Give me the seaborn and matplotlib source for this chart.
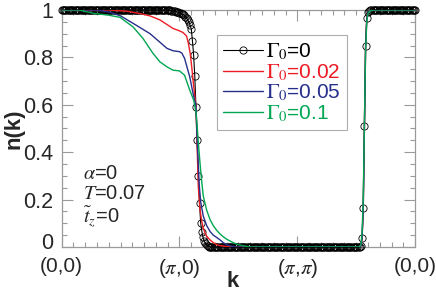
import numpy as np
import matplotlib
matplotlib.use('Agg')
import matplotlib.pyplot as plt
import matplotlib.transforms as mtransforms
from matplotlib.ticker import MultipleLocator
import seaborn as sns

# k path (0,0)->(pi,0)->(pi,pi)->(0,0), one unit per segment
k_ticks = [0, 1, 2, 3]
k_labels = ['(0,0)', r'($\pi$,0)', r'($\pi$,$\pi$)', '(0,0)']

# Gamma0 = 0, sampled every 0.01 along the path (circles)
k_black = np.linspace(0, 3, 301)
n_black = (
    [1.0, 1.0, 1.0, 1.0, 1.0, 1.0, 1.0, 1.0, 1.0, 1.0,
     1.0, 1.0, 1.0, 1.0, 1.0, 1.0, 1.0, 1.0, 1.0, 1.0,
     1.0, 1.0, 1.0, 1.0, 1.0, 1.0, 1.0, 1.0, 1.0, 1.0,
     1.0, 1.0, 1.0, 1.0, 1.0, 1.0, 1.0, 1.0, 1.0, 1.0,
     1.0, 1.0, 1.0, 1.0, 1.0, 1.0, 1.0, 1.0, 1.0, 1.0,
     1.0, 1.0, 1.0, 1.0, 1.0, 1.0, 1.0, 1.0, 1.0, 1.0,
     1.0, 1.0, 1.0, 1.0, 1.0, 1.0, 1.0, 1.0, 1.0, 1.0,
     1.0, 1.0, 1.0, 1.0, 1.0, 1.0, 1.0, 1.0, 1.0, 1.0,
     1.0, 1.0, 1.0, 1.0, 1.0, 1.0, 1.0, 1.0, 1.0, 1.0]
    + [0.999, 0.999, 0.998, 0.997, 0.996, 0.995, 0.994, 0.993, 0.992, 0.991]
    + [0.989, 0.987, 0.984, 0.981, 0.977, 0.972, 0.966, 0.958, 0.948, 0.935]
    + [0.92, 0.87, 0.81, 0.72, 0.59, 0.45, 0.30, 0.185, 0.10, 0.065]
    + [0.04, 0.025, 0.015, 0.008, 0.004, 0.002, 0.0, 0.0, 0.0, 0.0]
    + [0.0, 0.0, 0.0, 0.0, 0.0, 0.0, 0.0, 0.0, 0.0, 0.0,
       0.0, 0.0, 0.0, 0.0, 0.0, 0.0, 0.0, 0.0, 0.0, 0.0,
       0.0, 0.0, 0.0, 0.0, 0.0, 0.0, 0.0, 0.0, 0.0, 0.0,
       0.0, 0.0, 0.0, 0.0, 0.0, 0.0, 0.0, 0.0, 0.0, 0.0,
       0.0, 0.0, 0.0, 0.0, 0.0, 0.0, 0.0, 0.0, 0.0, 0.0,
       0.0, 0.0, 0.0, 0.0, 0.0, 0.0, 0.0, 0.0, 0.0, 0.0,
       0.0, 0.0, 0.0, 0.0, 0.0, 0.0, 0.0, 0.0, 0.0, 0.0,
       0.0, 0.0, 0.0, 0.0, 0.0, 0.0, 0.0, 0.0, 0.0, 0.0,
       0.0, 0.0, 0.0, 0.0, 0.0, 0.0, 0.0, 0.0, 0.0, 0.0,
       0.0, 0.0, 0.0, 0.0, 0.0, 0.0, 0.0, 0.0, 0.0, 0.0,
       0.0, 0.0, 0.0, 0.0, 0.0, 0.0, 0.0, 0.0, 0.0, 0.0,
       0.0, 0.0, 0.0, 0.0, 0.0, 0.0, 0.0, 0.0, 0.0, 0.0,
       0.0, 0.0, 0.0]
    + [0.002, 0.006, 0.037, 0.163, 0.509, 0.848, 0.965]
    + [0.99, 0.996, 0.998, 0.999, 1.0, 1.0, 1.0, 1.0, 1.0, 1.0,
       1.0, 1.0, 1.0, 1.0, 1.0, 1.0, 1.0, 1.0, 1.0, 1.0,
       1.0, 1.0, 1.0, 1.0, 1.0, 1.0, 1.0, 1.0, 1.0, 1.0,
       1.0, 1.0, 1.0, 1.0, 1.0, 1.0, 1.0, 1.0, 1.0, 1.0, 1.0]
)

# Gamma0 = 0.02
k_red = [0.0, 0.40, 0.55, 0.665, 0.75, 0.834, 0.89, 0.945, 0.99, 1.03,
         1.06, 1.075, 1.09, 1.104, 1.12, 1.14, 1.15, 1.16, 1.174, 1.188,
         1.202, 1.216, 1.231, 1.259, 1.287, 1.316, 1.344, 1.40, 1.45, 2.52,
         2.53, 2.54, 2.55, 2.56, 2.57, 2.58, 2.59, 2.60, 2.62, 2.65, 3.0]
n_red = [1.0, 1.0, 0.995, 0.985, 0.975, 0.958, 0.94, 0.922, 0.914, 0.905,
         0.89, 0.86, 0.82, 0.76, 0.68, 0.594, 0.42, 0.25, 0.16, 0.11,
         0.08, 0.06, 0.045, 0.03, 0.018, 0.01, 0.006, 0.002, 0.0, 0.0,
         0.002, 0.006, 0.037, 0.163, 0.509, 0.848, 0.965, 0.99, 0.998, 1.0, 1.0]

# Gamma0 = 0.05
k_blue = [0.0, 0.30, 0.41, 0.50, 0.605, 0.75, 0.894, 0.945, 1.0, 1.02,
          1.043, 1.087, 1.115, 1.14, 1.15, 1.168, 1.18, 1.202, 1.231, 1.26,
          1.287, 1.316, 1.344, 1.372, 1.40, 1.43, 1.48, 2.52,
          2.53, 2.54, 2.55, 2.56, 2.57, 2.58, 2.59, 2.60, 2.62, 2.65, 3.0]
n_blue = [1.0, 1.0, 0.99, 0.975, 0.944, 0.90, 0.838, 0.828, 0.824, 0.818,
          0.796, 0.718, 0.648, 0.594, 0.45, 0.26, 0.19, 0.13, 0.09, 0.065,
          0.05, 0.04, 0.03, 0.018, 0.01, 0.005, 0.0, 0.0,
          0.002, 0.006, 0.037, 0.163, 0.509, 0.848, 0.965, 0.99, 0.998, 1.0, 1.0]

# Gamma0 = 0.1
k_green = [0.0, 0.15, 0.266, 0.40, 0.495, 0.605, 0.69, 0.775, 0.834, 0.894,
           0.945, 1.0, 1.043, 1.087, 1.12, 1.14, 1.15, 1.16, 1.175, 1.188,
           1.202, 1.231, 1.26, 1.287, 1.316, 1.344, 1.372, 1.40, 1.43, 1.457,
           1.497, 1.55, 1.60, 2.52, 2.53, 2.54, 2.55, 2.56, 2.57, 2.58,
           2.59, 2.60, 2.62, 2.65, 3.0]
n_green = [1.0, 1.0, 0.986, 0.978, 0.969, 0.929, 0.88, 0.817, 0.781, 0.76,
           0.746, 0.743, 0.725, 0.662, 0.62, 0.57, 0.51, 0.44, 0.35, 0.28,
           0.215, 0.155, 0.115, 0.09, 0.07, 0.055, 0.043, 0.033, 0.025, 0.018,
           0.01, 0.004, 0.0, 0.0, 0.003, 0.01, 0.06, 0.20, 0.52, 0.83,
           0.95, 0.985, 0.997, 1.0, 1.0]

labels = [r'$\Gamma_0$=0', r'$\Gamma_0$=0.02', r'$\Gamma_0$=0.05', r'$\Gamma_0$=0.1']
colors = ['black', '#ec1c24', '#262f8c', '#00a651']

sns.set_style('ticks')
plt.rcParams['font.family'] = ['Liberation Sans', 'DejaVu Sans']
plt.rcParams['mathtext.fontset'] = 'stix'

fig = plt.figure(figsize=(4.36, 2.99), dpi=100)
ax = fig.add_axes([0.1415, 0.174, 0.8105, 0.7926])

sns.lineplot(x=k_black, y=n_black, ax=ax, color=colors[0], lw=0.8,
             marker='o', markersize=5.2, markerfacecolor='none',
             markeredgecolor='black', markeredgewidth=0.6,
             label=labels[0], clip_on=False, zorder=3)
sns.lineplot(x=k_red, y=n_red, ax=ax, color=colors[1], lw=1.0, label=labels[1], zorder=4)
sns.lineplot(x=k_blue, y=n_blue, ax=ax, color=colors[2], lw=1.0, label=labels[2], zorder=4)
sns.lineplot(x=k_green, y=n_green, ax=ax, color=colors[3], lw=1.0, label=labels[3], zorder=4)

ax.set_xlim(0, 3)
ax.set_ylim(0, 1)
ax.set_xticks(k_ticks)
ax.set_xticklabels(k_labels)
ax.set_yticks([0, 0.2, 0.4, 0.6, 0.8, 1.0])
ax.set_yticklabels(['0', '0.2', '0.4', '0.6', '0.8', '1'])
ax.xaxis.set_minor_locator(MultipleLocator(0.1))
ax.yaxis.set_minor_locator(MultipleLocator(0.05))

gray = '#9a9a9a'
ax.tick_params(which='both', direction='in', top=True, right=True, color=gray, width=0.8)
ax.tick_params(which='major', length=8)
ax.tick_params(which='minor', length=3.5)
ax.tick_params(axis='y', labelsize=15.5, pad=6)
ax.tick_params(axis='x', labelsize=15, pad=7)
for sp in ax.spines.values():
    sp.set_color(gray)
    sp.set_linewidth(0.9)

# the "0" label sits a bit above its tick in the original
lab0 = ax.yaxis.get_major_ticks()[0].label1
lab0.set_transform(lab0.get_transform() + mtransforms.ScaledTranslation(0, 6 / 100, fig.dpi_scale_trans))

ax.set_xlabel('k', fontsize=16, fontweight='bold')
ax.xaxis.set_label_coords(0.485, -0.10)
ax.set_ylabel('n(k)', fontsize=16, fontweight='bold')
ax.yaxis.set_label_coords(-0.105, 0.5)

ax.text(0.06, 0.31, r'$\alpha$=0', transform=ax.transAxes, fontsize=14.5, va='center')
ax.text(0.06, 0.225, r'$T$=0.07', transform=ax.transAxes, fontsize=14.5, va='center')
ax.text(0.06, 0.125, r'$\tilde{t}_z$=0', transform=ax.transAxes, fontsize=14.5, va='center')

leg = ax.legend(loc='upper left', bbox_to_anchor=(0.44, 0.895), fontsize=15,
                frameon=True, fancybox=False, edgecolor=gray, handlelength=1.9,
                handletextpad=0.15, labelspacing=0.0, borderpad=0.3, numpoints=1,
                borderaxespad=0)
leg.get_frame().set_linewidth(0.8)
for txt, c in zip(leg.get_texts(), colors):
    txt.set_color(c)

fig.savefig('out.png', dpi=100)
